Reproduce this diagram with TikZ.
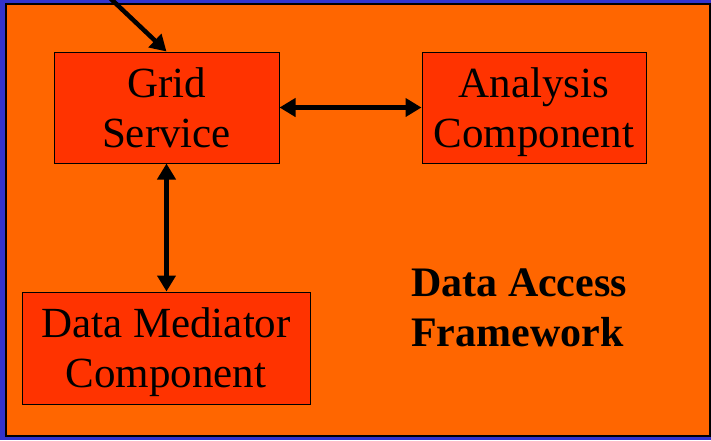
\documentclass[tikz,border=0pt]{standalone}
\usepackage{fontspec}
\setmainfont{Liberation Serif}
\usetikzlibrary{arrows.meta}
\definecolor{slideblue}{HTML}{3333CC}
\definecolor{frameorange}{HTML}{FF6600}
\definecolor{boxred}{HTML}{FF3300}
\begin{document}
\begin{tikzpicture}[x=1pt,y=-1pt]

        \fill[slideblue] (0,0) rectangle (711,440);
        \useasboundingbox (0,0) rectangle (711,440);
        \draw[fill=frameorange,line width=1.5pt] (6,4) rectangle (710,436);

        \begin{scope}[every node/.style={draw,fill=boxred,line width=1pt,align=center,
            font=\fontsize{43}{50}\selectfont,inner sep=0pt,text height=80pt,text depth=1pt}]
          \node[minimum width=225,minimum height=111] (grid)     at (166.5,107.5) {Grid\\Service};
          \node[minimum width=224,minimum height=111] (analysis) at (534,107.5)   {Analysis\\Component};
          \node[minimum width=288,minimum height=112] (mediator) at (166,348)     {Data Mediator\\Component};
        \end{scope}

        \node[font=\bfseries\fontsize{42}{50}\selectfont,align=left,anchor=west,inner sep=0pt] (daf) at (411,308)
          {Data Access\\Framework};

        \coordinate (in) at (110,-2);

        \begin{scope}[every edge/.style={draw,line width=4.5pt,-{Triangle[length=16pt,width=18pt]}}]
          \path (in) edge (grid.north);
        \end{scope}

        \begin{scope}[every edge/.style={draw,line width=4.5pt,{Triangle[length=16pt,width=18pt]}-{Triangle[length=16pt,width=18pt]}}]
          \path (grid)  edge (analysis);
          \path (grid.south) edge (grid.south |- mediator.north);
        \end{scope}

      \end{tikzpicture}
\end{document}
